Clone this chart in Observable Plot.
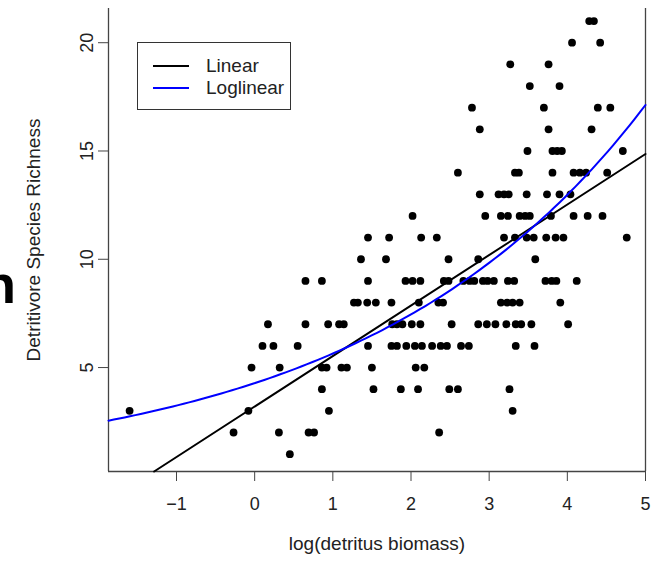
<!DOCTYPE html>
<html>
<head>
<meta charset="utf-8">
<script src="https://cdn.jsdelivr.net/npm/d3@7"></script>
<script src="https://cdn.jsdelivr.net/npm/@observablehq/plot@0.6"></script>
<style>
  body { margin: 0; background: #fff; font-family: "Liberation Sans", Arial, sans-serif; }
  #wrap { position: relative; width: 664px; height: 561px; overflow: hidden; }
  #legend { position: absolute; left: 137px; top: 42px; width: 154px; height: 68px;
            border: 1.3px solid #333; box-sizing: border-box; background: #fff; }
  .lg-line { position: absolute; left: 15px; width: 36px; height: 0; border-top: 2px solid; }
  .lg-text { position: absolute; left: 68px; font-size: 19px; line-height: 20px; color: #222; }
  #frag { position: absolute; left: 0; top: 0; }
</style>
</head>
<body>
<div id="wrap">
  <div id="chart"></div>
  <svg id="frag" width="20" height="561"><text x="-17" y="303" font-size="54" font-weight="bold" font-family="Liberation Sans, Arial, sans-serif" fill="#000">n</text></svg>
  <div id="legend">
    <div class="lg-line" style="top:22px;border-color:#000"></div>
    <div class="lg-text" style="top:13px">Linear</div>
    <div class="lg-line" style="top:44px;border-color:#0000ff"></div>
    <div class="lg-text" style="top:35px">Loglinear</div>
  </div>
</div>
<script>
// ---- data ----
const xTicks = [-1, 0, 1, 2, 3, 4, 5];
const yTicks = [5, 10, 15, 20];
const xDomain = [-1.87, 5.0];
const yDomain = [0.2, 21.58];
const xLabel = "log(detritus biomass)";
const yLabel = "Detritivore Species Richness";

const richnessLevels = [21, 20, 19, 18, 17, 16, 15, 14, 13, 12, 11, 10, 9, 8, 7, 6, 5, 4, 3, 2, 1];
const logBiomassRows = [
  [4.28, 4.34],
  [4.06, 4.42],
  [3.27, 3.76],
  [3.52, 3.90],
  [2.78, 3.70, 4.39, 4.55],
  [2.88, 3.76, 4.31],
  [3.49, 3.81, 3.87, 3.93, 4.71],
  [2.60, 3.33, 3.38, 3.81, 4.08, 4.16, 4.24, 4.51],
  [2.88, 3.12, 3.19, 3.25, 3.48, 3.74, 3.90, 4.04],
  [2.02, 2.95, 3.15, 3.24, 3.39, 3.46, 3.52, 3.79, 4.08, 4.26, 4.45],
  [1.45, 1.72, 2.13, 2.33, 3.19, 3.33, 3.48, 3.57, 3.73, 3.85, 3.95, 4.76],
  [1.36, 1.68, 2.48, 2.86, 3.59],
  [0.65, 0.86, 1.45, 1.93, 2.02, 2.12, 2.42, 2.48, 2.67, 2.75, 2.81, 2.92, 2.98, 3.06, 3.24, 3.32, 3.72, 3.80, 3.86, 4.12],
  [1.27, 1.32, 1.44, 1.55, 1.75, 2.10, 2.35, 2.41, 3.15, 3.23, 3.30, 3.39, 3.91],
  [0.17, 0.65, 0.94, 1.08, 1.14, 1.76, 1.82, 1.89, 2.01, 2.12, 2.52, 2.86, 2.97, 3.08, 3.22, 3.34, 3.41, 3.54, 4.01],
  [0.10, 0.24, 0.55, 1.45, 1.75, 1.82, 1.94, 2.05, 2.14, 2.27, 2.38, 2.46, 2.64, 2.74, 3.34, 3.58],
  [-0.04, 0.32, 0.86, 0.92, 1.11, 1.18, 1.50, 2.06, 2.17],
  [0.86, 1.52, 1.87, 2.09, 2.49, 2.60, 3.26],
  [-1.60, -0.08, 0.95, 3.30],
  [-0.27, 0.31, 0.69, 0.76, 2.36],
  [0.45]
];

// fitted model coefficients
const linearFit = { intercept: 3.20, slope: 2.332 };
const loglinearFit = { a: 1.454, b: 0.2773 };

// ---- build tables ----
const points = richnessLevels.flatMap((r, i) => logBiomassRows[i].map(x => ({ x, y: r })));

const linStart = (yDomain[0] - linearFit.intercept) / linearFit.slope;
const linearLine = [linStart, xDomain[1]].map(x => ({ x, y: linearFit.intercept + linearFit.slope * x }));

const loglinLine = d3.range(0, 101).map(i => {
  const x = xDomain[0] + (xDomain[1] - xDomain[0]) * i / 100;
  return { x, y: Math.exp(loglinearFit.a + loglinearFit.b * x) };
});

const fmt = d => (d < 0 ? "\u2212" + Math.abs(d) : String(d));

const chart = Plot.plot({
  width: 664,
  height: 561,
  marginLeft: 108,
  marginRight: 19,
  marginTop: 8,
  marginBottom: 90,
  x: { domain: xDomain },
  y: { domain: yDomain },
  style: { fontFamily: "Liberation Sans, Arial, sans-serif", fontSize: "18px", color: "#222", background: "white" },
  marks: [
    Plot.ruleX(xDomain, { stroke: "#444", strokeWidth: 1.3 }),
    Plot.ruleY([yDomain[0]], { stroke: "#444", strokeWidth: 1.3 }),
    Plot.axisX({ ticks: xTicks, tickSize: 10, tickPadding: 16, tickFormat: fmt, label: null, fontSize: 18, stroke: "#444" }),
    Plot.axisY({ ticks: yTicks, tickSize: 10, tickFormat: () => "", label: null, stroke: "#444" }),
    Plot.text(yTicks, { y: d => d, text: d => String(d), frameAnchor: "left", textAnchor: "middle", dx: -21, rotate: -90, fontSize: 18, fill: "#222" }),
    Plot.text([xLabel], { frameAnchor: "bottom", dy: 78, text: d => d, fontSize: 19, fill: "#222" }),
    Plot.text([yLabel], { frameAnchor: "left", textAnchor: "middle", dx: -75, rotate: -90, text: d => d, fontSize: 19, fill: "#222" }),
    Plot.dot(points, { x: "x", y: "y", r: 3.9, fill: "black" }),
    Plot.line(linearLine, { x: "x", y: "y", stroke: "black", strokeWidth: 2 }),
    Plot.line(loglinLine, { x: "x", y: "y", stroke: "#0000ff", strokeWidth: 2 })
  ]
});
document.getElementById("chart").appendChild(chart);
</script>
</body>
</html>
